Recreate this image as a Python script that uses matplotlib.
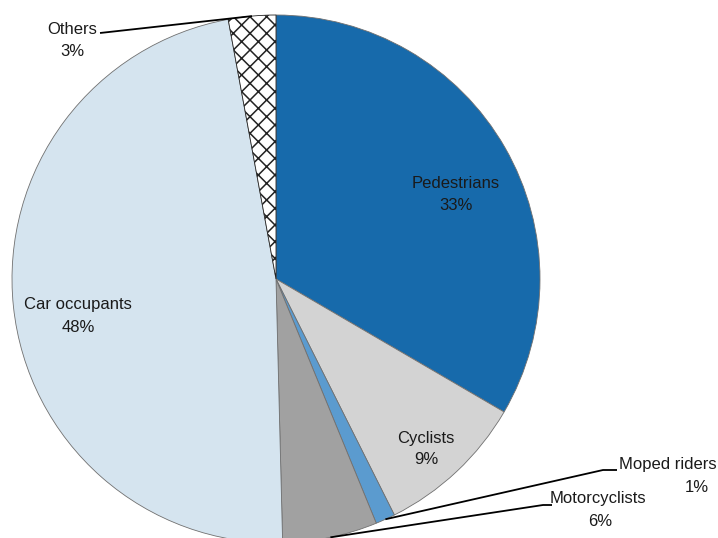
import numpy as np
import matplotlib
matplotlib.use("Agg")
import matplotlib.pyplot as plt

categories = ["Pedestrians", "Cyclists", "Moped riders", "Motorcyclists", "Car occupants", "Others"]
values = [33.4, 9.2, 1.2, 5.8, 47.5, 2.9]
pct_labels = ["33%", "9%", "1%", "6%", "48%", "3%"]
colors = ["#176aab", "#d3d3d3", "#5b9bcf", "#a1a1a1", "#d5e4ef", "#ffffff"]

plt.rcParams['font.family'] = ['Liberation Sans Narrow', 'Liberation Sans', 'DejaVu Sans']
plt.rcParams['hatch.linewidth'] = 1.1

W, H = 718, 538
fig = plt.figure(figsize=(W / 100, H / 100), dpi=100)
ax = fig.add_axes([0, 0, 1, 1])

cx, cy, R = 276, H - 279, 264
wedges, _ = ax.pie(values, colors=colors, startangle=90, counterclock=False,
                   center=(cx, cy), radius=R, frame=True,
                   wedgeprops=dict(edgecolor="#707070", linewidth=0.6))
ax.set_xlim(0, W)
ax.set_ylim(0, H)
ax.axis('off')
wedges[5].set_hatch('xx')
wedges[5].set_edgecolor('#222222')

fs = 12
tc = "#1a1a1a"

def txt(x, y, s, ha='center'):
    ax.text(x, H - y, s, ha=ha, va='center', fontsize=fs, color=tc)

# inside labels
txt(456, 183, "Pedestrians"); txt(456, 205, pct_labels[0])
txt(426, 438, "Cyclists"); txt(426, 460, pct_labels[1])
txt(78, 304, "Car occupants"); txt(78, 327, pct_labels[4])

# outside labels
txt(72, 29, "Others"); txt(72, 52, pct_labels[5])
txt(668, 465, "Moped riders"); txt(697, 488, pct_labels[2])
txt(598, 499, "Motorcyclists"); txt(600, 522, pct_labels[3])

def anchor(i):
    w = wedges[i]
    ang = np.deg2rad((w.theta1 + w.theta2) / 2)
    return cx + R * np.cos(ang), cy + R * np.sin(ang)

def leader(i, pts):
    ax_, ay_ = anchor(i)
    xs = [p[0] for p in pts] + [ax_]
    ys = [H - p[1] for p in pts] + [ay_]
    ax.plot(xs, ys, color='black', lw=1.3, solid_capstyle='butt', clip_on=False)

leader(5, [(100, 33)])
leader(2, [(617, 470), (603, 470)])
leader(3, [(552, 505), (543, 505)])

fig.savefig("out.png", dpi=100)
